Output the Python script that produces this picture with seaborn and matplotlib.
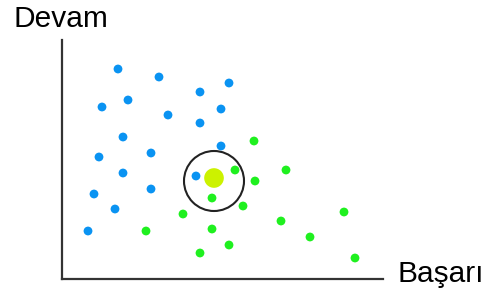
import seaborn as sns
import matplotlib.pyplot as plt
import pandas as pd
from matplotlib.patches import Circle

# veri: Başarı (x) ve Devam (y)
mavi_x = [56, 97, 167, 138, 66, 40, 159, 106, 138, 61, 159, 37, 89, 61, 134, 32, 89, 53, 26]
mavi_y = [210, 202, 196, 187, 179, 172, 170, 164, 156, 142, 133, 122, 126, 106, 103, 85, 90, 70, 48]
yesil_x = [192, 224, 173, 193, 150, 181, 121, 282, 219, 150, 248, 167, 138, 293, 84]
yesil_y = [138, 109, 109, 98, 81, 73, 65, 67, 58, 50, 42, 34, 26, 21, 48]
yeni_nokta = (152, 101)
komsuluk_yaricap = 30

sinif = ["mavi"] * len(mavi_x) + ["yesil"] * len(yesil_x)
df = pd.DataFrame({
    "Başarı": mavi_x + yesil_x,
    "Devam": mavi_y + yesil_y,
    "sinif": sinif,
})

sns.set_style("white")
plt.rcParams['font.family'] = ['Liberation Sans', 'DejaVu Sans']

fig = plt.figure(figsize=(4.82, 3.05), dpi=100)
ax = fig.add_axes([62 / 482, 26 / 305, 321 / 482, 239 / 305])

sns.scatterplot(
    data=df, x="Başarı", y="Devam", hue="sinif",
    palette={"mavi": "#0a93f2", "yesil": "#1ff01f"},
    s=40, edgecolor="none", legend=False, ax=ax)

ax.scatter([yeni_nokta[0]], [yeni_nokta[1]], s=200, color="#ccf200", edgecolor="none", zorder=3)
ax.add_patch(Circle((yeni_nokta[0], yeni_nokta[1] - 3), komsuluk_yaricap,
                    fill=False, edgecolor="#222222", linewidth=1.5, zorder=4))

ax.set_xlim(0, 321)
ax.set_ylim(0, 239)
ax.set_xticks([])
ax.set_yticks([])
ax.set_xlabel("")
ax.set_ylabel("")
for s in ["top", "right"]:
    ax.spines[s].set_visible(False)
for s in ["left", "bottom"]:
    ax.spines[s].set_color("#333333")
    ax.spines[s].set_linewidth(1.6)

fig.text(13 / 482, 1 - 27 / 305, "Devam", fontsize=21.5, va="baseline", ha="left", color="black")
fig.text(397 / 482, 1 - 282 / 305, "Başarı", fontsize=21.5, va="baseline", ha="left", color="black")

fig.savefig("out.png", dpi=100)
